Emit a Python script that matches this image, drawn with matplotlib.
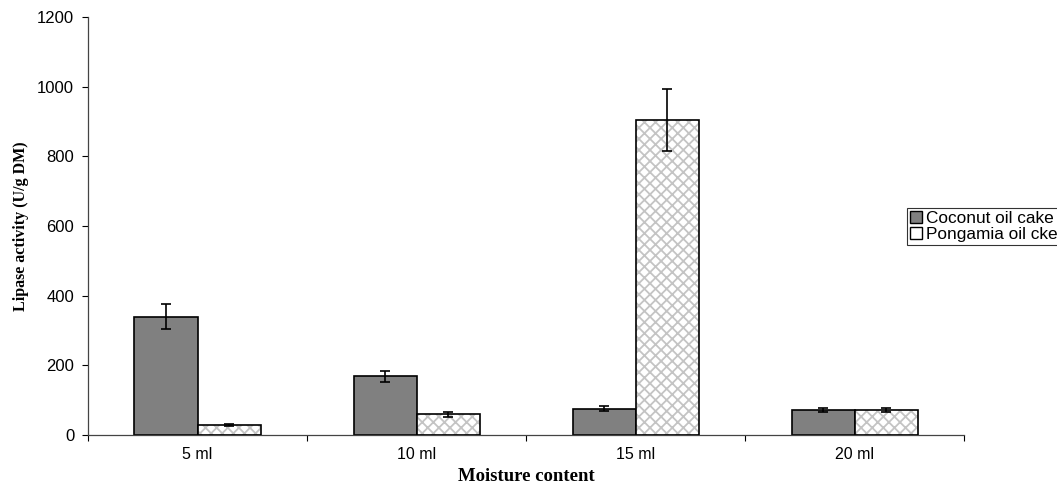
import matplotlib.pyplot as plt
import numpy as np
from matplotlib.patches import Patch

# data
categories = ['5 ml', '10 ml', '15 ml', '20 ml']
coconut = [340, 168, 75, 71]
coconut_err = [35, 17, 7, 6]
pongamia = [29, 59, 904, 71]
pongamia_err = [3, 6, 90, 6]
series_names = ['Coconut oil cake', 'Pongamia oil cke']

plt.rcParams['hatch.linewidth'] = 1.3

fig = plt.figure(figsize=(10.57, 4.86), dpi=100)
ax = fig.add_axes([0.0833, 0.105, 0.829, 0.86])

x = np.arange(len(categories))
w = 0.288

# coconut bars - dark gray solid
ax.bar(x - w / 2, coconut, w, color='#808080', edgecolor='black', linewidth=1.2, zorder=2)
# pongamia bars - light gray crosshatch, then black outline on top
ax.bar(x + w / 2, pongamia, w, color='white', edgecolor='#c4c4c4', hatch='xxx', linewidth=0, zorder=2)
ax.bar(x + w / 2, pongamia, w, fill=False, edgecolor='black', linewidth=1.2, zorder=3)

ax.errorbar(x - w / 2, coconut, yerr=coconut_err, fmt='none', ecolor='black',
            elinewidth=1.2, capsize=3.6, capthick=1.2, zorder=4)
ax.errorbar(x + w / 2, pongamia, yerr=pongamia_err, fmt='none', ecolor='black',
            elinewidth=1.2, capsize=3.6, capthick=1.2, zorder=4)

ax.set_xlim(-0.5, len(categories) - 0.5)
ax.set_ylim(0, 1200)
ax.set_yticks(range(0, 1201, 200))

ax.set_xticks(x)
ax.set_xticklabels(categories, fontname='Liberation Sans', fontsize=11.5)
ax.set_xticks(np.arange(-0.5, len(categories)), minor=True)
ax.tick_params(axis='x', which='major', length=0, pad=9)
ax.tick_params(axis='x', which='minor', length=4, direction='out', width=0.8)
ax.tick_params(axis='y', length=4, direction='out', width=0.8, labelsize=12, pad=6)
for lab in ax.get_yticklabels():
    lab.set_fontname('Liberation Sans')

for s in ['top', 'right']:
    ax.spines[s].set_visible(False)
for s in ['left', 'bottom']:
    ax.spines[s].set_color('#444444')
    ax.spines[s].set_linewidth(0.9)

ax.set_xlabel('Moisture content', fontname='Liberation Serif', fontweight='bold',
              fontsize=13.5, labelpad=4)
ax.set_ylabel('Lipase activity (U/g DM)', fontname='Liberation Serif', fontweight='bold',
              fontsize=11.5, labelpad=6)

handles = [Patch(facecolor='#808080', edgecolor='black', linewidth=1),
           Patch(facecolor='white', edgecolor='black', linewidth=1)]
leg = fig.legend(handles, series_names, loc='upper left',
                 bbox_to_anchor=(907 / 1057, (486 - 208) / 486),
                 prop={'family': 'Liberation Sans', 'size': 12.4},
                 frameon=True, fancybox=False, edgecolor='black',
                 handlelength=0.7, handleheight=0.7, handletextpad=0.25,
                 borderpad=0.15, labelspacing=0.1, borderaxespad=0)
leg.get_frame().set_linewidth(0.8)

fig.savefig('out.png', dpi=100)
